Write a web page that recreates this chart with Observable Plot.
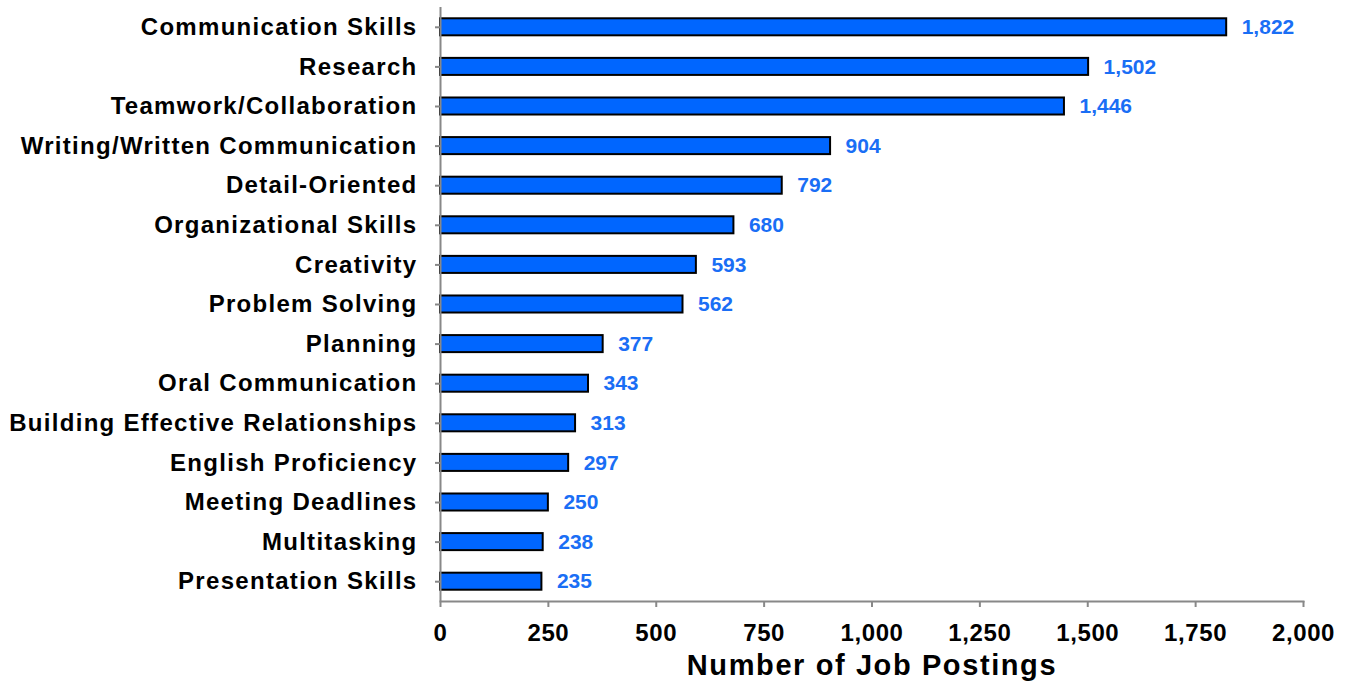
<!DOCTYPE html>
<html>
<head>
<meta charset="utf-8">
<script src="https://cdn.jsdelivr.net/npm/d3@7"></script>
<script src="https://cdn.jsdelivr.net/npm/@observablehq/plot@0.6"></script>
<style>
  html, body { margin: 0; padding: 0; background: #fff; }
  #chart svg { display: block; }
  #chart g[aria-label="y-axis tick label"] text { letter-spacing: 1.3px; }
  #chart g[aria-label="x-axis tick label"] text { letter-spacing: 0.6px; }
  #chart g.xtitle text { letter-spacing: 1.6px; }
</style>
</head>
<body>
<div id="chart"></div>
<script>
const skills = [
  "Communication Skills",
  "Research",
  "Teamwork/Collaboration",
  "Writing/Written Communication",
  "Detail-Oriented",
  "Organizational Skills",
  "Creativity",
  "Problem Solving",
  "Planning",
  "Oral Communication",
  "Building Effective Relationships",
  "English Proficiency",
  "Meeting Deadlines",
  "Multitasking",
  "Presentation Skills"
];
const postings = [1822, 1502, 1446, 904, 792, 680, 593, 562, 377, 343, 313, 297, 250, 238, 235];
const xTicks = [0, 250, 500, 750, 1000, 1250, 1500, 1750, 2000];
const xTitle = "Number of Job Postings";

const data = skills.map((s, i) => ({skill: s, value: postings[i]}));
const fmt = d3.format(",");

const chart = Plot.plot({
  width: 1355,
  height: 694,
  marginLeft: 440,
  marginRight: 52,
  marginTop: 7,
  marginBottom: 93,
  style: {fontFamily: "'Liberation Sans', Arial, sans-serif", fontWeight: "bold", color: "#000", background: "#fff"},
  x: {domain: [0, 2000]},
  y: {domain: skills, paddingInner: 0.57, paddingOuter: 0.285, round: false},
  marks: [
    Plot.barX(data, {x: "value", y: "skill", fill: "#0066ff", stroke: "#000", strokeWidth: 2}),
    Plot.text(data, {x: "value", y: "skill", text: d => fmt(d.value), textAnchor: "start", dx: 15, fill: "#1a6ef5", fontSize: 21, fontWeight: "bold"}),
    Plot.ruleX([0], {stroke: "#888", strokeWidth: 2}),
    Plot.frame({anchor: "bottom", stroke: "#888", strokeWidth: 2}),
    Plot.axisY({tickSize: 5, tickPadding: 18, fontSize: 24, stroke: "#888", strokeWidth: 2, fill: "#000", label: null}),
    Plot.axisX({ticks: xTicks, tickFormat: d => fmt(d), tickSize: 6, tickPadding: 16, fontSize: 24, stroke: "#888", strokeWidth: 2, fill: "#000", label: null}),
    Plot.text([xTitle], {frameAnchor: "bottom", dy: 64, lineAnchor: "middle", fontSize: 29, fontWeight: "bold", fill: "#000", className: "xtitle"})
  ]
});
document.getElementById("chart").appendChild(chart);
</script>
</body>
</html>
